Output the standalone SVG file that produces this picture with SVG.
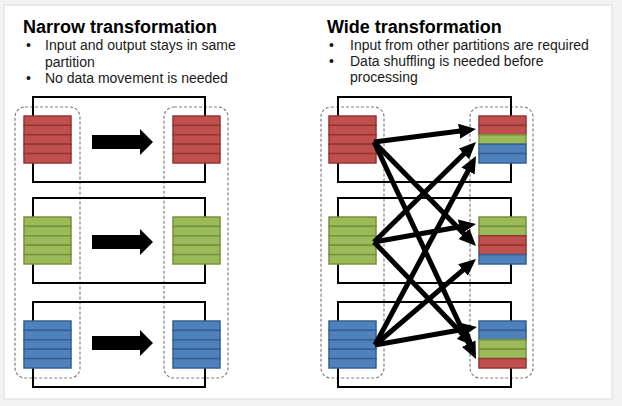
<svg xmlns="http://www.w3.org/2000/svg" width="622" height="406" viewBox="0 0 622 406">
<defs>
<style>
.title{font-family:"Liberation Sans",Arial,sans-serif;font-size:18px;font-weight:bold;fill:#000}
.txt{font-family:"Liberation Sans",Arial,sans-serif;font-size:14px;fill:#1a1a1a}
.r{fill:#c0504d;stroke:#943634;stroke-width:1.5}
.g{fill:#9bbb59;stroke:#76923c;stroke-width:1.5}
.b{fill:#4f81bd;stroke:#365f91;stroke-width:1.5}
.br{fill:none;stroke:#000;stroke-width:2}
.dash{fill:none;stroke:#808080;stroke-width:1.2;stroke-dasharray:3 2}
.blk{fill:#000}
.arr{fill:none;stroke:#000;stroke-width:5;marker-end:url(#ah)}
</style>
<marker id="ah" markerUnits="userSpaceOnUse" markerWidth="17" markerHeight="15" viewBox="0 0 17 15" refX="11" refY="7.5" orient="auto">
<path d="M0,0 L17,7.5 L0,15 z" fill="#000"/>
</marker>
</defs>
<rect x="0" y="0" width="622" height="406" fill="#f3f3f3"/>
<rect x="4" y="5" width="608" height="394" fill="#fff" stroke="#dcdcdc" stroke-width="1"/>

<g id="texts">
<text class="title" x="23" y="33">Narrow transformation</text>
<text class="txt" x="26" y="50">•</text>
<text class="txt" x="45" y="50">Input and output stays in same</text>
<text class="txt" x="45" y="67">partition</text>
<text class="txt" x="26" y="83">•</text>
<text class="txt" x="45" y="83">No data movement is needed</text>
<text class="title" x="327" y="33">Wide transformation</text>
<text class="txt" x="329" y="50">•</text>
<text class="txt" x="350" y="50">Input from other partitions are required</text>
<text class="txt" x="329" y="66">•</text>
<text class="txt" x="350" y="66">Data shuffling is needed before</text>
<text class="txt" x="350" y="82">processing</text>
</g>

<g id="partitions">
<rect class="dash" x="15" y="107" width="65" height="271" rx="10"/>
<rect class="dash" x="164" y="107" width="64" height="271" rx="10"/>
<rect class="dash" x="321" y="107" width="63" height="271" rx="10"/>
<rect class="dash" x="470" y="107" width="63" height="271" rx="10"/>
</g>

<g id="brackets">
<path class="br" d="M33,116 V97 H205 V116 M33,163 V182 H205 V163"/>
<path class="br" d="M33,217 V198 H205 V217 M33,264 V283 H205 V264"/>
<path class="br" d="M33,321 V302 H205 V321 M33,368 V387 H205 V368"/>
<path class="br" d="M338,116 V97 H511 V116 M338,163 V182 H511 V163"/>
<path class="br" d="M338,217 V198 H511 V217 M338,264 V283 H511 V264"/>
<path class="br" d="M338,321 V302 H511 V321 M338,368 V387 H511 V368"/>
</g>

<g id="narrow-in-red">
<rect class="r" x="24" y="116" width="47" height="9.4"/><rect class="r" x="24" y="125.4" width="47" height="9.4"/><rect class="r" x="24" y="134.8" width="47" height="9.4"/><rect class="r" x="24" y="144.2" width="47" height="9.4"/><rect class="r" x="24" y="153.6" width="47" height="9.4"/>
</g>
<g id="narrow-out-red">
<rect class="r" x="173" y="116" width="47" height="9.4"/><rect class="r" x="173" y="125.4" width="47" height="9.4"/><rect class="r" x="173" y="134.8" width="47" height="9.4"/><rect class="r" x="173" y="144.2" width="47" height="9.4"/><rect class="r" x="173" y="153.6" width="47" height="9.4"/>
</g>
<g id="narrow-in-green">
<rect class="g" x="24" y="217" width="47" height="9.4"/><rect class="g" x="24" y="226.4" width="47" height="9.4"/><rect class="g" x="24" y="235.8" width="47" height="9.4"/><rect class="g" x="24" y="245.2" width="47" height="9.4"/><rect class="g" x="24" y="254.6" width="47" height="9.4"/>
</g>
<g id="narrow-out-green">
<rect class="g" x="173" y="217" width="47" height="9.4"/><rect class="g" x="173" y="226.4" width="47" height="9.4"/><rect class="g" x="173" y="235.8" width="47" height="9.4"/><rect class="g" x="173" y="245.2" width="47" height="9.4"/><rect class="g" x="173" y="254.6" width="47" height="9.4"/>
</g>
<g id="narrow-in-blue">
<rect class="b" x="24" y="321" width="47" height="9.4"/><rect class="b" x="24" y="330.4" width="47" height="9.4"/><rect class="b" x="24" y="339.8" width="47" height="9.4"/><rect class="b" x="24" y="349.2" width="47" height="9.4"/><rect class="b" x="24" y="358.6" width="47" height="9.4"/>
</g>
<g id="narrow-out-blue">
<rect class="b" x="173" y="321" width="47" height="9.4"/><rect class="b" x="173" y="330.4" width="47" height="9.4"/><rect class="b" x="173" y="339.8" width="47" height="9.4"/><rect class="b" x="173" y="349.2" width="47" height="9.4"/><rect class="b" x="173" y="358.6" width="47" height="9.4"/>
</g>

<g id="wide-in-red">
<rect class="r" x="329" y="116" width="47" height="9.4"/><rect class="r" x="329" y="125.4" width="47" height="9.4"/><rect class="r" x="329" y="134.8" width="47" height="9.4"/><rect class="r" x="329" y="144.2" width="47" height="9.4"/><rect class="r" x="329" y="153.6" width="47" height="9.4"/>
</g>
<g id="wide-in-green">
<rect class="g" x="329" y="217" width="47" height="9.4"/><rect class="g" x="329" y="226.4" width="47" height="9.4"/><rect class="g" x="329" y="235.8" width="47" height="9.4"/><rect class="g" x="329" y="245.2" width="47" height="9.4"/><rect class="g" x="329" y="254.6" width="47" height="9.4"/>
</g>
<g id="wide-in-blue">
<rect class="b" x="329" y="321" width="47" height="9.4"/><rect class="b" x="329" y="330.4" width="47" height="9.4"/><rect class="b" x="329" y="339.8" width="47" height="9.4"/><rect class="b" x="329" y="349.2" width="47" height="9.4"/><rect class="b" x="329" y="358.6" width="47" height="9.4"/>
</g>
<g id="wide-out-1">
<rect class="r" x="479" y="116" width="47" height="9.4"/><rect class="r" x="479" y="125.4" width="47" height="9.4"/><rect class="g" x="479" y="134.8" width="47" height="9.4"/><rect class="b" x="479" y="144.2" width="47" height="9.4"/><rect class="b" x="479" y="153.6" width="47" height="9.4"/>
</g>
<g id="wide-out-2">
<rect class="g" x="479" y="217" width="47" height="9.4"/><rect class="g" x="479" y="226.4" width="47" height="9.4"/><rect class="r" x="479" y="235.8" width="47" height="9.4"/><rect class="r" x="479" y="245.2" width="47" height="9.4"/><rect class="b" x="479" y="254.6" width="47" height="9.4"/>
</g>
<g id="wide-out-3">
<rect class="b" x="479" y="321" width="47" height="9.4"/><rect class="b" x="479" y="330.4" width="47" height="9.4"/><rect class="g" x="479" y="339.8" width="47" height="9.4"/><rect class="g" x="479" y="349.2" width="47" height="9.4"/><rect class="r" x="479" y="358.6" width="47" height="9.4"/>
</g>

<g id="connectors">
<polygon class="blk" points="92,135 140,135 140,129 153,142 140,155 140,149 92,149"/>
<polygon class="blk" points="92,235 140,235 140,229 153,242 140,255 140,249 92,249"/>
<polygon class="blk" points="92,336 140,336 140,330 153,343 140,356 140,350 92,350"/>
<line class="arr" x1="374" y1="142" x2="470.0" y2="129.8"/>
<line class="arr" x1="374" y1="142" x2="471.8" y2="241.7"/>
<line class="arr" x1="374" y1="142" x2="473.4" y2="353.6"/>
<line class="arr" x1="374" y1="242" x2="471.7" y2="146.2"/>
<line class="arr" x1="374" y1="242" x2="470.1" y2="225.0"/>
<line class="arr" x1="374" y1="242" x2="469.8" y2="341.7"/>
<line class="arr" x1="375" y1="345" x2="473.2" y2="161.3"/>
<line class="arr" x1="375" y1="345" x2="471.4" y2="262.9"/>
<line class="arr" x1="375" y1="345" x2="471.1" y2="328.0"/>
</g>
</svg>
